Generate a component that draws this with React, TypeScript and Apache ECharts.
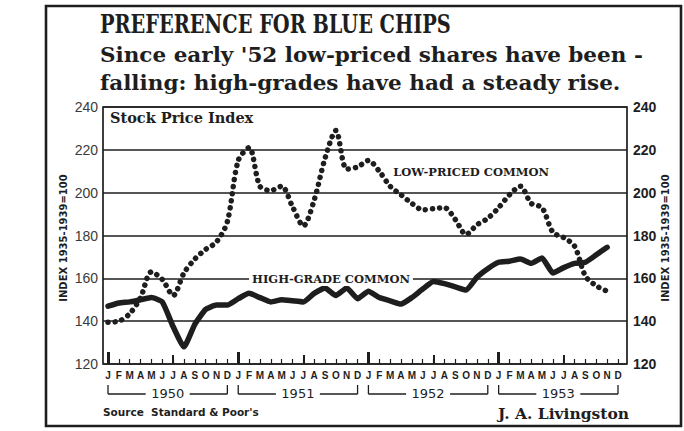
import React, { useEffect, useRef } from "react";
import * as echarts from "echarts";

const INK = "#1e1e1e";

const monthLetters = ["J", "F", "M", "A", "M", "J", "J", "A", "S", "O", "N", "D"];
const years = ["1950", "1951", "1952", "1953"];
const categories = years.flatMap((y) => monthLetters.map((m, i) => `${y}-${i + 1}`));

// Low-priced common stocks index (1935-1939 = 100), Jan 1950 - Nov 1953
const lowPriced = [
  139.5, 140, 143.5, 151, 163, 159.5, 152, 162.5, 169, 173.5, 177, 186.5,
  215, 221, 203, 201, 203, 193.5, 184.5, 196.5, 216, 229, 211, 212,
  215, 210, 203, 199, 195, 192, 192.5, 193, 187.5, 180.5, 185, 188,
  193, 199, 203, 195, 193, 181.5, 179, 175, 161, 156.5, 154, null,
];

// High-grade common stocks index
const highGrade = [
  147, 148.5, 149, 150, 151, 149, 137.5, 128, 138.5, 145.5, 147.5, 147.5,
  150.5, 153, 151, 149, 150, 149.5, 149, 153, 155.5, 152, 155.5, 150.5,
  154, 151, 149.5, 148, 151, 155, 158.5, 157.5, 156, 154.5, 160.5, 164.5,
  167.5, 168, 169, 167, 169.5, 162.5, 165, 167, 167.5, 171, 174.5, null,
];

const yTicks = { min: 120, max: 240, interval: 20 };

const SERIF = "'DejaVu Serif', serif";
const SERIF_C = "'DejaVu Serif Condensed', 'DejaVu Serif', serif";
const SANS = "'Liberation Sans', Arial, sans-serif";
const DSANS = "'DejaVu Sans', sans-serif";

export default function App() {
  const ref = useRef<HTMLDivElement>(null);

  useEffect(() => {
    if (!ref.current) return;
    const chart = echarts.init(ref.current, undefined, { renderer: "svg" });

    const tickAxis = (length: number, width: number, fn: (i: number) => boolean) => ({
      type: "category",
      gridIndex: 1,
      position: "bottom",
      data: categories,
      boundaryGap: false,
      axisLine: { show: false },
      axisLabel: { show: false },
      splitLine: { show: false },
      axisTick: {
        show: true,
        inside: true,
        length,
        interval: (i: number) => fn(i),
        lineStyle: { color: INK, width },
      },
    });

    const option: any = {
      animation: false,
      backgroundColor: "#ffffff",
      grid: [
        { left: 103, right: 57, top: 107, bottom: 67, show: true, borderColor: INK, borderWidth: 1.7, backgroundColor: "transparent" },
        { left: 108, right: 66, top: 107, bottom: 67 },
      ],
      xAxis: [
        { type: "value", gridIndex: 0, show: false, min: 0, max: 1 },
        {
          type: "category",
          gridIndex: 1,
          position: "bottom",
          data: categories,
          boundaryGap: false,
          axisLine: { show: false },
          splitLine: { show: false },
          axisTick: { show: true, inside: true, length: 5, interval: 0, lineStyle: { color: INK, width: 1.2 } },
          axisLabel: {
            interval: 0,
            margin: 6,
            formatter: (_v: string, i: number) => monthLetters[i % 12],
            color: INK,
            fontSize: 10,
            fontWeight: "bold",
            fontFamily: SANS,
          },
        },
        tickAxis(9, 2, (i) => i % 12 === 6),
        tickAxis(12, 3, (i) => i % 12 === 0),
      ],
      yAxis: [
        {
          type: "value",
          gridIndex: 0,
          position: "left",
          ...yTicks,
          axisLine: { show: false },
          axisTick: { show: false },
          axisLabel: { margin: 5, color: "#3a3a3a", fontSize: 14, fontFamily: SANS },
          splitLine: { show: true, lineStyle: { color: INK, width: 1.6 } },
        },
        {
          type: "value",
          gridIndex: 0,
          position: "right",
          ...yTicks,
          axisLine: { show: false },
          axisTick: { show: false },
          axisLabel: { margin: 6, color: INK, fontSize: 14, fontWeight: "bold", fontFamily: SANS },
          splitLine: { show: false },
        },
        { type: "value", gridIndex: 1, ...yTicks, show: false, splitLine: { show: false } },
      ],
      series: [
        {
          name: "Low-priced common",
          type: "line",
          xAxisIndex: 1,
          yAxisIndex: 2,
          data: lowPriced,
          symbol: "none",
          smooth: 0.3,
          lineStyle: { color: INK, width: 5.5, type: [0.1, 7], cap: "round" },
          z: 3,
        },
        {
          name: "High-grade common",
          type: "line",
          xAxisIndex: 1,
          yAxisIndex: 2,
          data: highGrade,
          symbol: "none",
          smooth: 0.15,
          lineStyle: { color: INK, width: 5.5, join: "round", cap: "round" },
          z: 4,
        },
      ],
    };

    chart.setOption(option);

    const px = (i: number, v: number) =>
      chart.convertToPixel({ xAxisIndex: 1, yAxisIndex: 2 } as any, [i, v]) as number[];

    const graphics: any[] = [
      {
        type: "rect",
        shape: { x: 46, y: 6, width: 635, height: 420 },
        style: { fill: "none", stroke: INK, lineWidth: 2.6 },
        silent: true,
      },
      {
        type: "text",
        x: 100,
        y: 24,
        scaleY: 1.25,
        style: { text: "PREFERENCE FOR BLUE CHIPS", fill: INK, font: `bold 21.5px ${SERIF_C}`, textVerticalAlign: "middle" },
      },
      {
        type: "text",
        x: 100,
        y: 55,
        scaleX: 1.14,
        style: { text: "Since early '52 low-priced shares have been -", fill: INK, font: `bold 21px ${SERIF_C}`, textVerticalAlign: "middle" },
      },
      {
        type: "text",
        x: 100,
        y: 83,
        scaleX: 1.14,
        style: { text: "falling: high-grades have had a steady rise.", fill: INK, font: `bold 21px ${SERIF_C}`, textVerticalAlign: "middle" },
      },
      {
        type: "text",
        x: 110,
        y: 117,
        style: { text: "Stock Price Index", fill: INK, font: `bold 14.5px ${SERIF}`, textVerticalAlign: "middle" },
      },
      {
        type: "text",
        x: 63,
        y: 238,
        rotation: Math.PI / 2,
        style: { text: "INDEX 1935-1939=100", fill: INK, font: `bold 10px ${DSANS}`, textAlign: "center", textVerticalAlign: "middle" },
      },
      {
        type: "text",
        x: 665,
        y: 238,
        rotation: Math.PI / 2,
        style: { text: "INDEX 1935-1939=100", fill: INK, font: `bold 10px ${DSANS}`, textAlign: "center", textVerticalAlign: "middle" },
      },
      {
        type: "text",
        x: 103,
        y: 412,
        style: { text: "Source  Standard & Poor's", fill: INK, font: `bold 10.5px ${DSANS}`, textVerticalAlign: "middle" },
      },
      {
        type: "text",
        x: 498,
        y: 413,
        style: { text: "J. A. Livingston", fill: INK, font: `bold 15.5px ${SERIF}`, textVerticalAlign: "middle" },
      },
    ];

    // Series labels anchored to data coordinates
    const lp = px(25.8, 209.8);
    graphics.push({
      type: "text",
      x: lp[0],
      y: lp[1],
      z: 10,
      style: {
        text: "LOW-PRICED COMMON",
        fill: INK,
        font: `bold 11.5px ${SERIF}`,
        textVerticalAlign: "middle",
        backgroundColor: "#fff",
        padding: [1, 3],
      },
    });
    const hg = px(13.4, 159.7);
    graphics.push({
      type: "text",
      x: hg[0],
      y: hg[1],
      z: 10,
      style: {
        text: "HIGH-GRADE COMMON",
        fill: INK,
        font: `bold 11.5px ${SERIF}`,
        textVerticalAlign: "middle",
        backgroundColor: "#fff",
        padding: [1, 3],
      },
    });

    // Year brackets under month labels
    years.forEach((yr, k) => {
      const x1 = px(12 * k, 120)[0];
      const x2 = px(12 * k + 11, 120)[0];
      const mid = (x1 + x2) / 2;
      const half = 22;
      const yTop = 385;
      const yLine = 394;
      graphics.push(
        { type: "line", shape: { x1, y1: yTop, x2: x1, y2: yLine }, style: { stroke: INK, lineWidth: 1.3 } },
        { type: "line", shape: { x1: x2, y1: yTop, x2, y2: yLine }, style: { stroke: INK, lineWidth: 1.3 } },
        { type: "line", shape: { x1, y1: yLine, x2: mid - half, y2: yLine }, style: { stroke: INK, lineWidth: 1.3 } },
        { type: "line", shape: { x1: mid + half, y1: yLine, x2, y2: yLine }, style: { stroke: INK, lineWidth: 1.3 } },
        {
          type: "text",
          x: mid,
          y: 393,
          style: { text: yr, fill: INK, font: `normal 13px ${DSANS}`, textAlign: "center", textVerticalAlign: "middle" },
        }
      );
    });

    chart.setOption({ graphic: graphics });

    return () => chart.dispose();
  }, []);

  return (
    <div
      ref={ref}
      style={{ position: "fixed", left: 0, top: 0, width: 684, height: 431, background: "#fff" }}
    />
  );
}
